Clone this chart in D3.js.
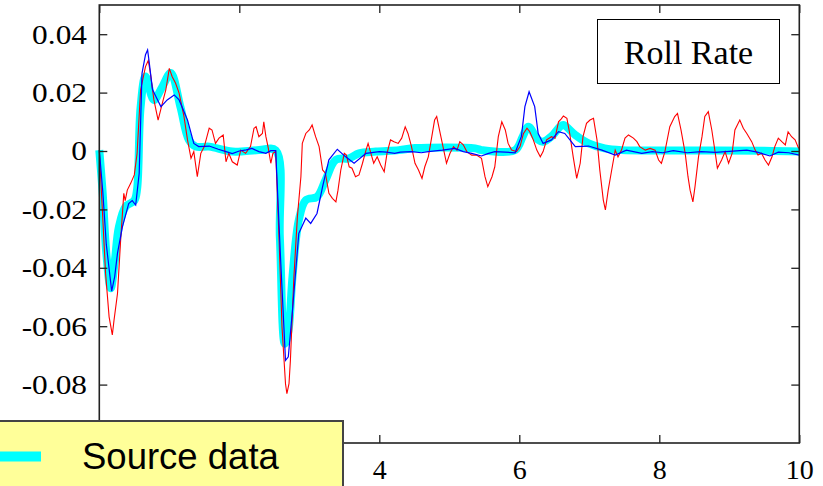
<!DOCTYPE html>
<html>
<head>
<meta charset="utf-8">
<script src="https://cdn.jsdelivr.net/npm/d3@7"></script>
<style>
  html, body { margin: 0; padding: 0; background: #fff; }
  svg { display: block; }
</style>
</head>
<body>
<svg id="chart" width="823" height="486"></svg>
<script>
// Roll rate response: [time (s), roll rate] samples per series
const sourceData = [
  [0, 0.0003], [0.05, -0.015], [0.1, -0.035], [0.163, -0.047], [0.22, -0.038], [0.28, -0.026],
  [0.377, -0.019], [0.5, -0.017], [0.54, -0.013], [0.59, 0.015], [0.66, 0.0255],
  [0.78, 0.0175], [0.9, 0.022], [1.02, 0.0267], [1.16, 0.015], [1.28, 0.0038],
  [1.38, 0.0015], [1.57, 0.0015], [1.9, -0.0002], [2.28, 0.0003], [2.52, 0.0002],
  [2.58, -0.03], [2.65, -0.066], [2.7, -0.062], [2.76, -0.043], [2.85, -0.0237],
  [2.95, -0.0168], [3.11, -0.0157], [3.23, -0.01], [3.38, -0.003], [3.57, -0.0025],
  [3.71, -0.0008], [3.95, -0.0002], [4.28, 0.0003], [4.51, 0.001], [5.37, 0.0009],
  [5.46, 0.0003], [5.94, 0.0003], [6.05, 0.005], [6.13, 0.0083], [6.27, 0.0038],
  [6.34, 0.0032], [6.46, 0.005], [6.58, 0.0083], [6.63, 0.0089], [6.8, 0.0055],
  [6.99, 0.0026], [7.22, 0.0009], [7.46, 0.0003], [8.5, 0.0002], [9.5, 0.0001], [10, -0.0002]
];

const modelA = [
  [0, 0.0003], [0.05, -0.014], [0.1, -0.032], [0.177, -0.048], [0.22, -0.043], [0.26, -0.035], [0.33, -0.026],
  [0.42, -0.018], [0.47, -0.017], [0.52, -0.0185], [0.57, -0.0076], [0.61, 0.0266],
  [0.66, 0.033], [0.69, 0.0346], [0.71, 0.031], [0.76, 0.021], [0.88, 0.0152],
  [0.97, 0.0175], [1.07, 0.0192], [1.14, 0.0175], [1.26, 0.0106], [1.35, 0.0026],
  [1.42, 0.0015], [1.57, 0.0017], [1.7, 0.0006], [1.81, -0.0002], [1.9, -0.0009], [2.0, 0],
  [2.1, 0.0004], [2.18, 0.0009], [2.28, -0.0002], [2.38, -0.0008], [2.45, 0.0001], [2.52, 0.0001],
  [2.59, -0.037], [2.66, -0.0717], [2.7, -0.0705], [2.76, -0.0545], [2.85, -0.0282],
  [2.95, -0.023], [3.02, -0.0248], [3.11, -0.0214], [3.19, -0.0122], [3.28, -0.003],
  [3.4, 0.0006], [3.52, -0.002], [3.64, -0.0042], [3.81, -0.0008], [4.0, -0.0002],
  [4.1, -0.0004], [4.22, -0.0008], [4.3, -0.0004], [4.46, -0.0002], [4.6, -0.0006], [4.7, -0.0002],
  [4.9, 0.0003], [5.08, 0.0009], [5.2, -0.0002], [5.32, -0.0008], [5.46, -0.0017],
  [5.55, -0.0009], [5.65, -0.0002], [5.8, -0.0004], [5.94, -0.0006], [6.03, 0.005],
  [6.08, 0.0152], [6.14, 0.0203], [6.22, 0.0152], [6.27, 0.006], [6.34, 0.0026],
  [6.46, 0.0038], [6.56, 0.0066], [6.65, 0.006], [6.8, 0.0015], [6.99, 0.0017],
  [7.18, 0.0003], [7.37, -0.0014], [7.53, 0.0003], [7.75, -0.0008], [7.9, -0.0002],
  [8.05, -0.0006], [8.2, 0.0001], [8.4, -0.0006], [8.6, -0.0002], [8.8, -0.0005],
  [9.0, -0.0001], [9.25, 0.0003], [9.4, -0.0004], [9.58, -0.0017], [9.7, -0.0004],
  [9.85, -0.0006], [10, -0.0014]
];

const modelB = [
  [0, 0.0003], [0.09, -0.042], [0.14, -0.0568], [0.186, -0.063], [0.21, -0.058],
  [0.26, -0.0488], [0.305, -0.0305], [0.35, -0.0145], [0.37, -0.017], [0.4, -0.0134],
  [0.45, -0.011], [0.5, -0.0082], [0.54, -0.0008], [0.59, 0.0209], [0.66, 0.0289],
  [0.7, 0.031], [0.73, 0.0266], [0.78, 0.0175], [0.84, 0.0106], [0.9, 0.0163],
  [0.95, 0.0209], [1.0, 0.0283], [1.04, 0.0255], [1.09, 0.0232], [1.14, 0.0198],
  [1.21, 0.0118], [1.26, 0.0038], [1.31, -0.0025], [1.35, -0.0002], [1.4, -0.0088],
  [1.45, -0.0008], [1.5, 0.0015], [1.57, 0.0078], [1.61, 0.0072], [1.66, 0.0026],
  [1.71, 0.0044], [1.77, 0.0055], [1.81, -0.0037], [1.85, -0.0008], [1.9, -0.0037],
  [1.97, -0.0048], [2.02, 0.0003], [2.09, -0.0008], [2.16, 0.0015], [2.21, 0.0078],
  [2.24, 0.0083], [2.28, 0.0049], [2.33, 0.006], [2.35, 0.01], [2.38, 0.0049],
  [2.41, 0.0015], [2.45, -0.0042], [2.48, -0.0008], [2.52, -0.0002], [2.57, -0.0317],
  [2.61, -0.0603], [2.66, -0.0797], [2.68, -0.0831], [2.71, -0.0797], [2.73, -0.0717],
  [2.78, -0.0431], [2.83, -0.0225], [2.88, -0.0088], [2.9, 0.0026], [2.95, 0.006],
  [3.0, 0.0072], [3.04, 0.0089], [3.09, 0.0049], [3.14, 0.0015], [3.19, -0.0065],
  [3.23, -0.0076], [3.28, -0.0145], [3.33, -0.0162], [3.38, -0.0174], [3.41, -0.0134],
  [3.45, -0.0065], [3.5, -0.0008], [3.53, -0.0014], [3.57, -0.0054], [3.61, -0.0059],
  [3.66, -0.0088], [3.71, -0.0082], [3.76, -0.0042], [3.81, 0.0003], [3.84, 0.0026],
  [3.88, -0.0008], [3.92, -0.0042], [3.97, -0.002], [4.02, -0.0048], [4.07, -0.0071],
  [4.11, -0.0008], [4.16, 0.0038], [4.21, 0.0032], [4.27, 0.0026], [4.32, 0.0044],
  [4.37, 0.0083], [4.41, 0.006], [4.46, 0.0015], [4.51, -0.0042], [4.56, -0.0065],
  [4.61, -0.0094], [4.65, -0.0054], [4.7, -0.002], [4.75, 0.0049], [4.79, 0.0106],
  [4.82, 0.0118], [4.87, 0.006], [4.91, 0.0015], [4.96, -0.0042], [5.01, -0.0008],
  [5.06, 0.0015], [5.11, 0.0003], [5.15, 0.0032], [5.2, 0.0021], [5.25, -0.0002],
  [5.32, -0.0014], [5.39, -0.0014], [5.46, -0.0025], [5.51, -0.0088], [5.55, -0.0122],
  [5.61, -0.0088], [5.65, -0.0054], [5.7, 0.0049], [5.75, 0.01], [5.8, 0.0072],
  [5.84, 0.0026], [5.89, 0.0003], [5.96, -0.0002], [6.01, 0.0015], [6.06, 0.006],
  [6.11, 0.0078], [6.15, 0.0066], [6.2, 0.0038], [6.25, 0.0003], [6.3, -0.002],
  [6.34, -0.0002], [6.39, 0.0038], [6.46, 0.0049], [6.51, 0.0044], [6.56, 0.01],
  [6.6, 0.011], [6.63, 0.012], [6.68, 0.0112], [6.72, 0.006], [6.77, -0.002], [6.82, -0.0094],
  [6.87, -0.0042], [6.91, 0.0049], [6.96, 0.0095], [7.01, 0.0106], [7.06, 0.0112],
  [7.11, 0.0038], [7.15, -0.0065], [7.2, -0.0168], [7.23, -0.0202], [7.27, -0.0134],
  [7.32, -0.0065], [7.37, 0.0003], [7.41, -0.002], [7.46, 0.0003], [7.51, 0.0044],
  [7.56, 0.0055], [7.63, 0.0044], [7.68, 0.0032], [7.72, 0.0015], [7.8, 0.0003],
  [7.87, 0.0009], [7.94, 0.0003], [7.99, -0.0031], [8.03, -0.0042], [8.08, -0.0002],
  [8.15, 0.0083], [8.22, 0.0118], [8.26, 0.0129], [8.31, 0.0072], [8.37, -0.0008],
  [8.41, -0.0088], [8.44, -0.0134], [8.48, -0.0174], [8.51, -0.0122], [8.56, -0.002],
  [8.61, 0.0049], [8.65, 0.0118], [8.7, 0.0135], [8.75, 0.0072], [8.8, -0.0008],
  [8.83, -0.0059], [8.89, -0.0031], [8.94, -0.0002], [8.99, -0.0042], [9.04, -0.0008],
  [9.08, 0.0072], [9.15, 0.0106], [9.2, 0.0078], [9.25, 0.006], [9.32, 0.0032],
  [9.37, 0.0003], [9.41, -0.0014], [9.46, -0.0008], [9.51, -0.0031], [9.56, -0.0048],
  [9.61, -0.002], [9.65, 0.0015], [9.7, 0.0044], [9.75, 0.0032], [9.8, 0.0021],
  [9.84, 0.0066], [9.89, 0.0049], [9.94, 0.0038], [9.99, 0.0009]
];

const xTicks = [0, 2, 4, 6, 8, 10];
const xTickLabels = [4, 6, 8, 10];   // labels left of 4 sit under the legend box
const yTicks = [-0.08, -0.06, -0.04, -0.02, 0, 0.02, 0.04];
const chartTitle = "Roll Rate";
const legendLabel = "Source data";

const svg = d3.select("#chart");
const plot = { left: 99.3, right: 799.3, top: 5, bottom: 443 };

const x = d3.scaleLinear().domain([0, 10]).range([plot.left, plot.right]);
const y = d3.scaleLinear().domain([-0.1, 0.05]).range([plot.bottom, plot.top]);

const fmtY = v => (v === 0 ? "0" : v.toFixed(2));
const serif = "'Liberation Serif', 'Times New Roman', serif";

// Series lines
const lineSmooth = d3.line().x(d => x(d[0])).y(d => y(d[1])).curve(d3.curveCatmullRom.alpha(0.5));
const lineRaw = d3.line().x(d => x(d[0])).y(d => y(d[1]));

svg.append("path").datum(sourceData)
  .attr("d", lineSmooth).attr("fill", "none")
  .attr("stroke", "#00ffff").attr("stroke-width", 8)
  .attr("stroke-linejoin", "round").attr("stroke-linecap", "butt");

svg.append("path").datum(modelB)
  .attr("d", lineRaw).attr("fill", "none")
  .attr("stroke", "#ff0000").attr("stroke-width", 1.1);

svg.append("path").datum(modelA)
  .attr("d", lineRaw).attr("fill", "none")
  .attr("stroke", "#0000ff").attr("stroke-width", 1.2);

// Frame with inward ticks on all sides
const axisColor = "#222";
function styleAxis(g) {
  g.select(".domain").remove();
  g.selectAll(".tick line").attr("stroke", axisColor).attr("stroke-width", 1.3);
  g.selectAll(".tick text").attr("fill", "#000").attr("font-family", serif).attr("font-size", 28);
}

svg.append("g").attr("transform", `translate(${plot.left},0)`)
  .call(d3.axisLeft(y).tickValues(yTicks).tickSizeInner(-8).tickSizeOuter(0).tickPadding(11).tickFormat(fmtY))
  .call(styleAxis)
  .call(g => g.selectAll(".tick text").attr("transform", "scale(1.12,1)"));

svg.append("g").attr("transform", `translate(${plot.right},0)`)
  .call(d3.axisRight(y).tickValues(yTicks).tickSizeInner(-8).tickSizeOuter(0).tickFormat(""))
  .call(styleAxis);

svg.append("g").attr("transform", `translate(0,${plot.bottom})`)
  .call(d3.axisBottom(x).tickValues(xTicks).tickSizeInner(-8).tickSizeOuter(0).tickFormat(""))
  .call(styleAxis);

svg.append("g").attr("transform", `translate(0,${plot.bottom})`)
  .call(d3.axisBottom(x).tickValues(xTickLabels).tickSizeInner(0).tickSizeOuter(0).tickPadding(16).tickFormat(d3.format("d")))
  .call(styleAxis);

svg.append("g").attr("transform", `translate(0,${plot.top})`)
  .call(d3.axisTop(x).tickValues(xTicks).tickSizeInner(-8).tickSizeOuter(0).tickFormat(""))
  .call(styleAxis);

svg.append("rect")
  .attr("x", plot.left).attr("y", plot.top)
  .attr("width", plot.right - plot.left).attr("height", plot.bottom - plot.top)
  .attr("fill", "none").attr("stroke", axisColor).attr("stroke-width", 1.6);

// Title box
svg.append("rect")
  .attr("x", 597.5).attr("y", 19.5).attr("width", 182).attr("height", 64)
  .attr("fill", "#fff").attr("stroke", "#000").attr("stroke-width", 1);
svg.append("text")
  .attr("x", 688.5).attr("y", 63.5)
  .attr("text-anchor", "middle")
  .attr("font-family", serif).attr("font-size", 34)
  .text(chartTitle);

// Legend
const legend = svg.append("g");
legend.append("rect")
  .attr("x", -5).attr("y", 421).attr("width", 348).attr("height", 80)
  .attr("fill", "#ffff99").attr("stroke", "#444").attr("stroke-width", 2);
legend.append("line")
  .attr("x1", 0).attr("x2", 41).attr("y1", 456.5).attr("y2", 456.5)
  .attr("stroke", "#00ffff").attr("stroke-width", 10);
legend.append("text")
  .attr("x", 82).attr("y", 468.5)
  .attr("font-family", "'Liberation Sans', Arial, sans-serif").attr("font-size", 36.5)
  .attr("fill", "#000")
  .text(legendLabel);
</script>
</body>
</html>
